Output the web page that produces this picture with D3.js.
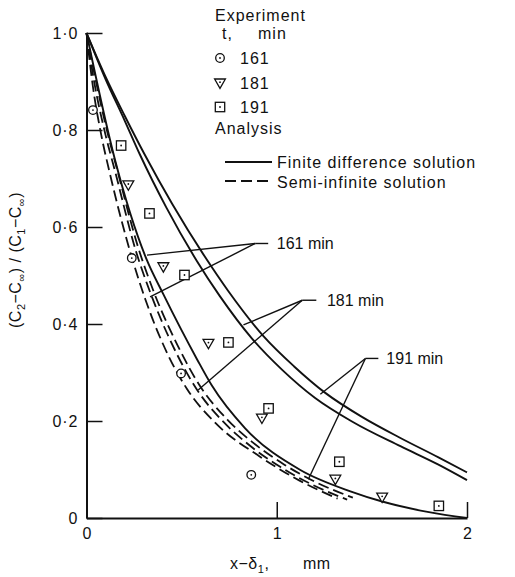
<!DOCTYPE html>
<html><head><meta charset="utf-8">
<script src="https://cdn.jsdelivr.net/npm/d3@7"></script>
<style>
body{margin:0;background:#fff}
svg{display:block}
text{font-family:"Liberation Sans",Arial,sans-serif;fill:#111}
</style>
</head><body>
<svg id="c" width="515" height="577"></svg>
<script>
// ---------- data ----------
const xTicks = [0, 1, 2];
const xTickLabels = ["0", "1", "2"];
const yTicks = [0, 0.2, 0.4, 0.6, 0.8, 1.0];
const yTickLabels = ["0", "0·2", "0·4", "0·6", "0·8", "1·0"];

// experiment points
const exp161X = [0.034, 0.238, 0.497, 0.866];
const exp161Y = [0.841, 0.536, 0.298, 0.089];
const exp181X = [0.22, 0.404, 0.641, 0.922, 1.308, 1.554];
const exp181Y = [0.687, 0.518, 0.36, 0.206, 0.08, 0.043];
const exp191X = [0.182, 0.331, 0.515, 0.746, 0.957, 1.329, 1.852];
const exp191Y = [0.768, 0.628, 0.501, 0.362, 0.226, 0.116, 0.025];

// finite difference solutions (solid)
const fd161X = [0, 0.15, 0.317, 0.403, 0.58, 0.659, 0.834, 1.124, 1.387, 1.554, 1.8, 2.0];
const fd161Y = [1, 0.738, 0.532, 0.462, 0.328, 0.273, 0.185, 0.099, 0.055, 0.034, 0.012, 0];
const fd181X = [0, 0.1, 0.2, 0.28, 0.42, 0.58, 0.70, 0.87, 1.03, 1.2, 1.40, 1.65, 1.85, 2.0];
const fd181Y = [1, 0.905, 0.82, 0.75, 0.64, 0.53, 0.458, 0.37, 0.305, 0.248, 0.198, 0.148, 0.11, 0.078];
const fd191X = [0, 0.1, 0.2, 0.305, 0.45, 0.62, 0.745, 0.93, 1.09, 1.255, 1.45, 1.65, 1.85, 2.0];
const fd191Y = [1, 0.91, 0.83, 0.75, 0.648, 0.54, 0.468, 0.375, 0.313, 0.258, 0.208, 0.165, 0.125, 0.094];

// semi-infinite solutions (dashed)
const si161X = [0, 0.03, 0.08, 0.12, 0.24, 0.31, 0.43, 0.53, 0.68, 0.91, 1.12, 1.32];
const si161Y = [1, 0.9, 0.785, 0.715, 0.535, 0.45, 0.335, 0.265, 0.195, 0.127, 0.077, 0.04];
const si181X = [0, 0.04, 0.1, 0.15, 0.26, 0.34, 0.46, 0.58, 0.72, 0.85, 1.02, 1.19, 1.37];
const si181Y = [1, 0.9, 0.79, 0.715, 0.55, 0.46, 0.35, 0.265, 0.198, 0.152, 0.105, 0.068, 0.038];
const si191X = [0, 0.05, 0.11, 0.16, 0.27, 0.35, 0.48, 0.6, 0.74, 0.87, 1.04, 1.21, 1.40];
const si191Y = [1, 0.9, 0.795, 0.72, 0.56, 0.47, 0.355, 0.27, 0.203, 0.157, 0.11, 0.073, 0.042];

// annotation leaders: junction, ends (data units)
const leaderLabels = ["161 min", "181 min", "191 min"];
const leaderJunctionX = [0.887, 1.134, 1.466];
const leaderJunctionY = [0.566, 0.449, 0.329];
const leaderTailX = [0.955, 1.208, 1.534];
const leaderLabelX = [1.0, 1.264, 1.576];
const leaderEndAX = [0.318, 0.825, 1.229];
const leaderEndAY = [0.542, 0.398, 0.255];
const leaderEndBX = [0.334, 0.587, 1.166];
const leaderEndBY = [0.456, 0.264, 0.080];

// ---------- chart ----------
const svg = d3.select("#c");
const x = d3.scaleLinear().domain([0, 2]).range([86.5, 467]);
const y = d3.scaleLinear().domain([0, 1]).range([518, 33]);
const FONT = 16;

// axes
const yAxis = d3.axisLeft(y).tickValues(yTicks)
  .tickFormat((d, i) => yTickLabels[i]).tickSize(-16).tickSizeOuter(0).tickPadding(8);
const gy = svg.append("g").attr("transform", `translate(${x(0)},0)`).call(yAxis);
gy.select(".domain").attr("stroke", "#111").attr("stroke-width", 2);
gy.selectAll(".tick line").attr("stroke", "#111").attr("stroke-width", 1.5);
gy.selectAll(".tick text").attr("font-size", FONT).attr("fill", "#111")
  .style("font-family", '"Liberation Sans",Arial,sans-serif').attr("letter-spacing", 1);

const xAxis = d3.axisBottom(x).tickValues(xTicks)
  .tickFormat((d, i) => xTickLabels[i]).tickSize(-16).tickSizeOuter(0).tickPadding(10);
const gx = svg.append("g").attr("transform", `translate(0,${y(0)})`).call(xAxis);
gx.select(".domain").attr("stroke", "#111").attr("stroke-width", 2);
gx.selectAll(".tick line").attr("stroke", "#111").attr("stroke-width", 1.5)
  .attr("opacity", (d) => d === 0 ? 0 : 1);
gx.selectAll(".tick text").attr("font-size", FONT).attr("fill", "#111")
  .style("font-family", '"Liberation Sans",Arial,sans-serif');

// curves
const line = d3.line().x(d => x(d[0])).y(d => y(d[1])).curve(d3.curveMonotoneX);
const zip = (a, b) => a.map((v, i) => [v, b[i]]);
const solid = [[fd161X, fd161Y], [fd181X, fd181Y], [fd191X, fd191Y]];
const dashed = [[si161X, si161Y], [si181X, si181Y], [si191X, si191Y]];
svg.append("g").selectAll("path").data(solid).join("path")
  .attr("d", d => line(zip(d[0], d[1])))
  .attr("fill", "none").attr("stroke", "#111").attr("stroke-width", 1.9);
svg.append("g").selectAll("path").data(dashed).join("path")
  .attr("d", d => line(zip(d[0], d[1])))
  .attr("fill", "none").attr("stroke", "#111").attr("stroke-width", 1.8)
  .attr("stroke-dasharray", "11,5");

// leaders
const lg = svg.append("g");
leaderLabels.forEach((lab, i) => {
  const jx = x(leaderJunctionX[i]), jy = y(leaderJunctionY[i]);
  [[leaderEndAX[i], leaderEndAY[i]], [leaderEndBX[i], leaderEndBY[i]]].forEach(e => {
    lg.append("line").attr("x1", jx).attr("y1", jy).attr("x2", x(e[0])).attr("y2", y(e[1]))
      .attr("stroke", "#111").attr("stroke-width", 1.4);
  });
  lg.append("line").attr("x1", jx).attr("y1", jy).attr("x2", x(leaderTailX[i])).attr("y2", jy)
    .attr("stroke", "#111").attr("stroke-width", 1.4);
  lg.append("text").attr("x", x(leaderLabelX[i])).attr("y", jy).attr("dy", "0.36em")
    .attr("font-size", FONT).text(lab);
});

// markers
function drawMarker(g, kind, cx, cy) {
  const s = g.append("g").attr("transform", `translate(${cx},${cy})`);
  const st = {fill: "#fff", stroke: "#111", "stroke-width": 1.3};
  let m;
  if (kind === "circle") m = s.append("circle").attr("r", 4.3);
  else if (kind === "tri") m = s.append("path").attr("d", "M-5.4,-4L5.4,-4L0,5.4Z");
  else m = s.append("rect").attr("x", -4.7).attr("y", -4.7).attr("width", 9.4).attr("height", 9.4);
  Object.entries(st).forEach(([k, v]) => m.attr(k, v));
  s.append("circle").attr("r", 0.9).attr("fill", "#111").attr("cy", kind === "tri" ? -0.8 : 0);
}
const mg = svg.append("g");
exp161X.forEach((v, i) => drawMarker(mg, "circle", x(v), y(exp161Y[i])));
exp181X.forEach((v, i) => drawMarker(mg, "tri", x(v), y(exp181Y[i])));
exp191X.forEach((v, i) => drawMarker(mg, "square", x(v), y(exp191Y[i])));

// legend
const leg = svg.append("g");
const T = (tx, ty, str) => leg.append("text").attr("x", tx).attr("y", ty).attr("dy", "0.36em")
  .attr("font-size", FONT).attr("letter-spacing", 1).text(str);
T(215, 15, "Experiment");
T(222, 33, "t,");
T(258, 33, "min");
drawMarker(leg, "circle", 220, 58); T(240, 58, "161");
drawMarker(leg, "tri", 220, 83); T(240, 83, "181");
drawMarker(leg, "square", 220, 107); T(240, 107, "191");
T(215, 128, "Analysis");
leg.append("line").attr("x1", 225).attr("x2", 272).attr("y1", 162).attr("y2", 162)
  .attr("stroke", "#111").attr("stroke-width", 1.9);
T(277, 162, "Finite difference solution");
leg.append("line").attr("x1", 225).attr("x2", 272).attr("y1", 181).attr("y2", 181)
  .attr("stroke", "#111").attr("stroke-width", 1.8).attr("stroke-dasharray", "11,5");
T(277, 182, "Semi-infinite solution");

// axis titles
const xt = svg.append("text").attr("x", 230).attr("y", 563).attr("dy", "0.36em")
  .attr("font-size", FONT).attr("letter-spacing", 0.5);
xt.append("tspan").text("x−δ");
xt.append("tspan").attr("font-size", 11).attr("dy", 4).text("1");
xt.append("tspan").attr("dy", -4).text(",");
xt.append("tspan").attr("x", 303).text("mm");

const yt = svg.append("text").attr("transform", "translate(15,260) rotate(-90)")
  .attr("text-anchor", "middle").attr("dy", "0.36em").attr("font-size", FONT).attr("letter-spacing", 0.5);
yt.append("tspan").text("(C");
yt.append("tspan").attr("font-size", 11).attr("dy", 4).text("2");
yt.append("tspan").attr("dy", -4).text("−C");
yt.append("tspan").attr("font-size", 11).attr("dy", 4).text("∞");
yt.append("tspan").attr("dy", -4).text(") / (C");
yt.append("tspan").attr("font-size", 11).attr("dy", 4).text("1");
yt.append("tspan").attr("dy", -4).text("−C");
yt.append("tspan").attr("font-size", 11).attr("dy", 4).text("∞");
yt.append("tspan").attr("dy", -4).text(")");
</script>
</body></html>
